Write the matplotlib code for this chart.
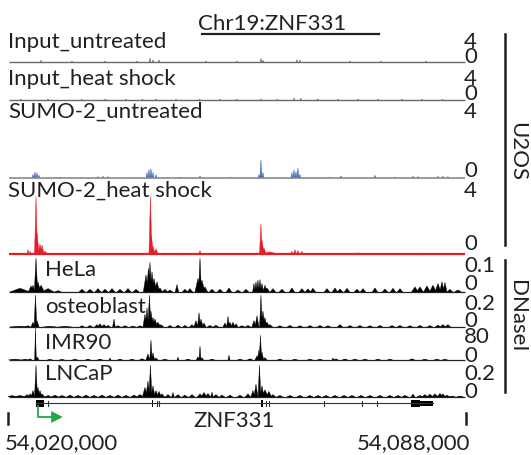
import matplotlib
matplotlib.use("Agg")
import matplotlib.pyplot as plt
from matplotlib.lines import Line2D
from matplotlib.patches import Rectangle

plt.rcParams['font.family'] = ['Lato', 'DejaVu Sans']

# ---- data ---------------------------------------------------------------
# genomic window chr19:54,020,000-54,088,000, positions below in kb from start
region_labels = ['54,020,000', '54,088,000']
window_kb = 68.0
signal_start, signal_end = 0.22, 67.85

track_names = ['Input_untreated', 'Input_heat shock', 'SUMO-2_untreated',
               'SUMO-2_heat shock', 'HeLa', 'osteoblast', 'IMR90', 'LNCaP']
track_max = [4, 4, 4, 4, 0.1, 0.2, 80, 0.2]
track_max_labels = ['4', '4', '4', '4', '0.1', '0.2', '80', '0.2']

# peaks of every track: position (kb), height, half width (kb)
inu_pos = [4.98, 21.13, 21.58, 22.47, 37.59, 37.88, 42.93, 43.37,
           9.56, 14.46, 19.2, 29.44, 34.04, 50.79, 55.39, 62.06]
inu_val = [0.25, 0.55, 0.3, 0.3, 0.5, 0.25, 0.35, 0.25,
           0.12, 0.12, 0.12, 0.12, 0.12, 0.12, 0.12, 0.12]
inu_hw = [0.12] * 16

inh_pos = [2.0, 6.0, 11.0, 14.5, 17.6, 20.0, 22.0, 25.0, 28.5, 31.5, 34.0,
           37.6, 40.0, 42.5, 43.5, 46.0, 49.0, 52.0, 55.0, 58.5, 61.5, 64.5]
inh_val = [0.1, 0.12, 0.1, 0.15, 0.1, 0.12, 0.15, 0.1, 0.12, 0.1, 0.12,
           0.15, 0.1, 0.25, 0.25, 0.15, 0.1, 0.12, 0.1, 0.12, 0.1, 0.1]
inh_hw = [0.12] * 22

sumo_u_pos = [3.78, 4.08, 4.38, 4.67, 13.42, 14.16, 14.9, 20.69, 20.98, 21.28,
              21.58, 22.02, 28.55, 37.29, 37.59, 37.88, 42.18, 42.48, 42.78,
              43.07, 43.37, 49.46, 54.5, 60.14, 60.88, 63.84, 64.58, 65.32,
              7.79, 10.75, 16.69, 25.58, 33.0, 47.83, 57.47]
sumo_u_val = [0.2, 0.33, 0.28, 0.15, 0.08, 0.1, 0.08, 0.3, 0.45, 0.5,
              0.3, 0.18, 0.12, 0.2, 0.97, 0.3, 0.3, 0.45, 0.35,
              0.54, 0.2, 0.12, 0.15, 0.1, 0.08, 0.1, 0.1, 0.08,
              0.05, 0.05, 0.05, 0.05, 0.06, 0.06, 0.06]
sumo_u_hw = [0.15] * 35

sumo_h_pos = [3.04, 3.34, 4.23, 4.38, 4.82, 5.12, 5.56, 21.2, 21.35, 21.58,
              22.02, 28.55, 37.59, 37.74, 38.03, 38.92, 42.18, 42.63, 43.07,
              43.67, 51.98, 13.72, 25.58, 61.17]
sumo_h_val = [0.25, 0.15, 3.25, 1.2, 0.56, 0.5, 0.15, 3.25, 1.0, 0.45,
              0.3, 0.2, 1.7, 0.8, 0.35, 0.12, 0.15, 0.25, 0.2,
              0.15, 0.08, 0.06, 0.06, 0.06]
sumo_h_hw = [0.15, 0.15, 0.22, 0.3, 0.3, 0.3, 0.4, 0.22, 0.3, 0.3,
             0.3, 0.15, 0.22, 0.3, 0.35, 1.2, 0.2, 0.2, 0.2,
             0.2, 0.15, 0.15, 0.15, 0.15]

hela_pos = [1.85, 3.49, 3.78, 4.23, 4.52, 4.97, 6.01, 7.49,
            11.05, 12.23, 13.42, 14.46, 15.5, 16.69, 17.87, 19.06,
            20.54, 20.91, 21.13, 21.43, 21.73, 22.17, 22.61, 23.35, 24.1,
            25.13, 26.32, 27.06, 28.25, 28.55, 28.84, 29.29,
            30.33, 31.51, 32.85, 34.18, 35.37,
            36.55, 36.85, 37.14, 37.44, 37.74, 38.18,
            38.48, 39.37, 40.7, 42.18, 43.67, 44.56, 45.3, 47.38, 48.57,
            49.31, 50.35, 51.83, 52.72, 54.5, 55.98, 57.17, 58.21,
            60.43, 61.17, 62.21, 63.1, 63.84, 64.44, 64.88, 65.62, 66.8]
hela_val = [0.011, 0.018, 0.02, 0.1, 0.03, 0.02, 0.01, 0.004,
            0.008, 0.008, 0.01, 0.008, 0.01, 0.008, 0.01, 0.008,
            0.05, 0.07, 0.088, 0.06, 0.04, 0.03, 0.012, 0.008, 0.006,
            0.022, 0.008, 0.01, 0.04, 0.1, 0.035, 0.015,
            0.008, 0.008, 0.012, 0.006, 0.008,
            0.025, 0.03, 0.035, 0.037, 0.025, 0.02,
            0.012, 0.01, 0.008, 0.012, 0.01, 0.009, 0.011, 0.01, 0.012,
            0.009, 0.011, 0.008, 0.01, 0.012, 0.009, 0.011, 0.01,
            0.015, 0.015, 0.018, 0.02, 0.025, 0.03, 0.028, 0.008, 0.006]
hela_hw = [1.5, 0.4, 0.3, 0.25, 0.4, 0.5, 0.9, 0.5,
           0.45, 0.45, 0.45, 0.45, 0.45, 0.45, 0.45, 0.45,
           0.4, 0.3, 0.25, 0.3, 0.4, 0.4, 0.4, 0.4, 0.4,
           0.25, 0.4, 0.4, 0.45, 0.22, 0.45, 0.4,
           0.4, 0.4, 0.4, 0.4, 0.4,
           0.2, 0.2, 0.2, 0.2, 0.25, 0.3,
           0.4, 0.4, 0.4, 0.4, 0.4, 0.4, 0.4, 0.4, 0.4,
           0.4, 0.4, 0.4, 0.4, 0.4, 0.4, 0.4, 0.4,
           0.5, 0.5, 0.5, 0.5, 0.45, 0.35, 0.3, 0.4, 0.5]

osteo_pos = [1.85, 3.04, 3.78, 4.15, 4.38, 6.3, 8.53,
             11.05, 12.23, 13.27, 13.72, 14.31, 14.9, 15.79,
             16.39, 17.43, 18.61, 19.65,
             20.39, 20.69, 21.05, 21.28, 21.58, 21.87, 22.32, 22.76,
             24.1, 25.28, 26.32, 27.36, 27.95, 28.4, 28.7, 29.14,
             30.03, 30.92, 32.25, 32.7, 33.0, 33.44, 33.89, 34.77, 35.66,
             36.55, 37.0, 37.59, 37.88, 38.18, 38.48, 38.92,
             40.4, 41.89, 43.37, 44.86, 46.34, 47.53, 49.31, 50.79, 52.27,
             53.76, 55.24, 57.02, 58.21, 59.69, 61.17, 62.65, 63.84, 64.58,
             65.32]
osteo_val = [0.005, 0.008, 0.03, 0.2, 0.04, 0.004, 0.004,
             0.008, 0.01, 0.015, 0.02, 0.015, 0.01, 0.05,
             0.008, 0.008, 0.006, 0.008,
             0.08, 0.12, 0.2, 0.1, 0.06, 0.05, 0.03, 0.015,
             0.01, 0.012, 0.01, 0.015, 0.04, 0.09, 0.05, 0.025,
             0.01, 0.012, 0.025, 0.067, 0.03, 0.03, 0.02, 0.008, 0.01,
             0.04, 0.07, 0.2, 0.1, 0.06, 0.03, 0.015,
             0.008, 0.01, 0.008, 0.009, 0.01, 0.008, 0.015, 0.009, 0.01,
             0.008, 0.01, 0.009, 0.01, 0.008, 0.01, 0.009, 0.012, 0.015,
             0.015]
osteo_hw = [1.5, 0.4, 0.3, 0.2, 0.3, 1.0, 1.0,
            0.35, 0.35, 0.35, 0.35, 0.35, 0.35, 0.2,
            0.4, 0.4, 0.4, 0.4,
            0.3, 0.25, 0.22, 0.3, 0.3, 0.4, 0.4, 0.4,
            0.35, 0.35, 0.35, 0.35, 0.3, 0.22, 0.3, 0.3,
            0.4, 0.4, 0.3, 0.2, 0.3, 0.3, 0.3, 0.4, 0.4,
            0.3, 0.3, 0.2, 0.3, 0.3, 0.4, 0.4,
            0.4, 0.4, 0.4, 0.4, 0.4, 0.4, 0.4, 0.4, 0.4,
            0.4, 0.4, 0.4, 0.4, 0.4, 0.4, 0.4, 0.4, 0.4,
            0.4]

imr_pos = [1.11, 2.6, 3.34, 4.15, 4.38, 6.3, 8.08, 10.0, 11.94, 13.72, 15.2,
           16.69, 18.46, 19.95, 20.83, 21.28, 21.58, 22.02, 23.35, 25.28,
           26.77, 28.25, 28.55, 28.84, 30.33, 32.85, 34.48, 35.96,
           37.0, 37.29, 37.52, 37.74, 38.18, 40.4, 42.63, 44.86, 46.34,
           48.27, 48.72, 50.05, 51.53, 53.02, 54.94, 56.72, 59.99, 61.91,
           63.69, 64.88]
imr_val = [2, 2, 3, 82, 8, 1.5, 1.5, 2, 2, 2, 5,
           2, 2, 3, 15, 50, 18, 5, 2, 7,
           2, 8, 35, 6, 2, 12, 2, 3,
           10, 25, 62, 20, 6, 2, 2, 2, 2,
           5, 3, 2.5, 2, 2, 2, 2, 3, 2,
           2, 2]
imr_hw = [1.0, 0.5, 0.3, 0.12, 0.3, 0.4, 0.4, 0.4, 0.4, 0.4, 0.15,
          0.4, 0.4, 0.4, 0.3, 0.18, 0.25, 0.3, 0.4, 0.15,
          0.4, 0.25, 0.15, 0.25, 0.4, 0.15, 0.4, 0.4,
          0.3, 0.25, 0.18, 0.25, 0.3, 0.4, 0.4, 0.4, 0.4,
          0.15, 0.3, 0.4, 0.4, 0.4, 0.4, 0.4, 0.4, 0.4,
          0.4, 0.4]

lncap_pos = [0.67, 1.85, 2.89, 3.34, 3.78, 4.23, 4.52, 4.82, 5.12,
             6.01, 7.04, 8.08, 9.27, 10.46, 11.64, 12.83, 14.01, 15.2, 16.39,
             17.57, 18.76, 19.65,
             20.39, 20.83, 21.2, 21.58, 22.02, 22.47, 22.91,
             23.8, 24.54, 25.28, 26.32, 27.36, 28.55, 29.14, 29.73, 30.33,
             30.92, 31.81, 33.0, 34.48, 35.66,
             36.4, 36.85, 37.37, 37.74, 38.18, 38.77, 39.37,
             40.4, 41.89, 43.37, 44.86, 46.05, 47.23, 48.57, 49.9, 51.09,
             52.42, 53.76, 55.24, 56.72, 57.91, 58.95, 60.14, 61.17,
             61.91, 62.65, 63.4, 64.14, 64.58, 65.18, 65.92, 67.1]
lncap_val = [0.009, 0.01, 0.015, 0.02, 0.04, 0.2, 0.06, 0.04, 0.02,
             0.01, 0.012, 0.01, 0.012, 0.01, 0.012, 0.01, 0.012, 0.01, 0.012,
             0.01, 0.012, 0.015,
             0.06, 0.1, 0.2, 0.07, 0.04, 0.035, 0.02,
             0.015, 0.028, 0.015, 0.012, 0.015, 0.02, 0.028, 0.022, 0.03,
             0.015, 0.012, 0.012, 0.012, 0.02,
             0.04, 0.08, 0.2, 0.07, 0.045, 0.035, 0.015,
             0.01, 0.01, 0.01, 0.01, 0.01, 0.01, 0.01, 0.01, 0.01,
             0.01, 0.01, 0.01, 0.01, 0.01, 0.01, 0.018, 0.01,
             0.015, 0.018, 0.02, 0.022, 0.02, 0.012, 0.006, 0.006]
lncap_hw = [0.8, 0.8, 0.4, 0.3, 0.3, 0.22, 0.3, 0.3, 0.4,
            0.5, 0.5, 0.5, 0.5, 0.5, 0.5, 0.5, 0.5, 0.5, 0.5,
            0.5, 0.5, 0.5,
            0.4, 0.3, 0.22, 0.3, 0.35, 0.35, 0.4,
            0.4, 0.2, 0.4, 0.4, 0.4, 0.4, 0.4, 0.4, 0.2,
            0.4, 0.4, 0.4, 0.4, 0.4,
            0.3, 0.3, 0.2, 0.3, 0.5, 0.4, 0.4,
            0.45, 0.45, 0.45, 0.45, 0.45, 0.45, 0.45, 0.45, 0.45,
            0.45, 0.45, 0.45, 0.45, 0.45, 0.45, 0.3, 0.45,
            0.45, 0.45, 0.45, 0.45, 0.4, 0.4, 0.5, 0.5]

# ZNF331 gene model (kb): coding blocks, thin exon marks, 3' UTR
gene_start, gene_end = 4.23, 63.1
exon_starts = [4.23, 21.43, 37.59, 59.84]
exon_ends = [5.41, 21.58, 37.88, 61.17]
exon_marks = [6.01, 22.17, 22.47, 38.33, 38.77, 46.94, 52.57, 54.79]
utr_start, utr_end = 61.17, 63.1
gene_name = 'ZNF331'

# ---- layout -------------------------------------------------------------
W, H = 531, 455
TXT = '#231f20'
fig = plt.figure(figsize=(W / 100, H / 100), dpi=100)


def fx(px):
    return px / W


def fy(py):
    return 1 - py / H


def px_axes(left, top, right, bottom):
    ax = fig.add_axes([fx(left), fy(bottom), (right - left) / W, (bottom - top) / H])
    ax.set_xlim(0, window_kb)
    ax.axis('off')
    return ax


X0, X1 = 7.5, 466

tracks = [
    (inu_pos, inu_val, inu_hw), (inh_pos, inh_val, inh_hw),
    (sumo_u_pos, sumo_u_val, sumo_u_hw), (sumo_h_pos, sumo_h_val, sumo_h_hw),
    (hela_pos, hela_val, hela_hw), (osteo_pos, osteo_val, osteo_hw),
    (imr_pos, imr_val, imr_hw), (lncap_pos, lncap_val, lncap_hw),
]
colors = ['#6a6a6a', '#6a6a6a', '#3f66b3', '#e41e26',
          'black', 'black', 'black', 'black']
base_colors = ['#6a6a6a', '#6a6a6a', '#8a8a8a', '#e41e26',
               '#222222', '#222222', '#222222', '#222222']
base_lw = [1.0, 1.0, 1.2, 1.6, 0.9, 0.9, 0.9, 0.9]
# top px, bottom px of each track
track_box = [(33, 62), (70, 100), (104, 178), (183, 254),
             (258, 292), (295, 327), (328, 360), (365, 397)]
name_xy = [(8, 48), (8, 85), (8, 118), (8, 197),
           (45, 276), (45, 313), (45, 349), (45, 380)]
max_lab_y = [48, 85, 118, 197, 272, 310, 343, 380]
zero_lab_y = [63, 100, 177, 250, 290, 327, 362, 398]

FS = 16
for i, (pos, val, hw) in enumerate(tracks):
    top, bottom = track_box[i]
    ax = px_axes(X0, top, X1, bottom)
    ax.set_ylim(0, track_max[i])
    for p, v, w in zip(pos, val, hw):
        ax.fill([p - w, p, p + w], [0, v, 0], color=colors[i], lw=0.3)
    ax.plot([signal_start, signal_end], [0, 0], color=base_colors[i],
            lw=base_lw[i], clip_on=False, solid_capstyle='butt')

    fig.text(fx(name_xy[i][0]), fy(name_xy[i][1]), track_names[i],
             fontsize=FS, color=TXT, va='baseline', ha='left')
    fig.text(fx(464), fy(max_lab_y[i]), track_max_labels[i],
             fontsize=FS, color=TXT, va='baseline', ha='left')
    fig.text(fx(464), fy(zero_lab_y[i]), '0',
             fontsize=FS, color=TXT, va='baseline', ha='left')

# title
fig.text(fx(272), fy(30), 'Chr19:ZNF331', fontsize=FS, color=TXT,
         ha='center', va='baseline')
fig.add_artist(Line2D([fx(202), fx(379)], [fy(33.5), fy(33.5)], lw=1.6, color=TXT))

# cell line groups
fig.add_artist(Line2D([fx(505), fx(505)], [fy(34), fy(245)], lw=1.8, color=TXT))
fig.add_artist(Line2D([fx(505), fx(505)], [fy(260), fy(392)], lw=1.8, color=TXT))
fig.text(fx(517), fy(152), 'U2OS', rotation=-90, fontsize=FS, color=TXT,
         ha='center', va='center')
fig.text(fx(517), fy(316), 'DNaseI', rotation=-90, fontsize=FS, color=TXT,
         ha='center', va='center')

# gene track, y in pixel units
ga = px_axes(X0, 395, X1, 455)
ga.set_ylim(455, 395)
ga.plot([gene_start, gene_end], [403, 403], color='#333333', lw=0.8)
for s, e in zip(exon_starts, exon_ends):
    ga.add_patch(Rectangle((s, 400), e - s, 6.5, color='black', lw=0))
for m in exon_marks:
    ga.plot([m, m], [400.5, 405.5], color='#333333', lw=0.8)
ga.add_patch(Rectangle((utr_start, 401), utr_end - utr_start, 4.5, color='black', lw=0))

# transcription start arrow
tss = gene_start + 0.25
green = '#22a84a'
ga.plot([tss, tss, tss + 2.2], [406, 417, 417], color=green, lw=1.3)
ga.fill([tss + 2.0, tss + 3.7, tss + 2.0], [411, 417, 423], color=green, lw=0)

ga.text((gene_start + gene_end) / 2, 427, gene_name, fontsize=FS, color=TXT,
        ha='center', va='baseline')

# window ends
for xk in [0, window_kb]:
    ga.plot([xk, xk], [413, 424], color=TXT, lw=1.8, clip_on=False)
fig.text(fx(5), fy(449), region_labels[0], fontsize=FS, color=TXT, ha='left', va='baseline')
fig.text(fx(470), fy(449), region_labels[1], fontsize=FS, color=TXT, ha='right', va='baseline')

fig.savefig('out.png', dpi=100)
